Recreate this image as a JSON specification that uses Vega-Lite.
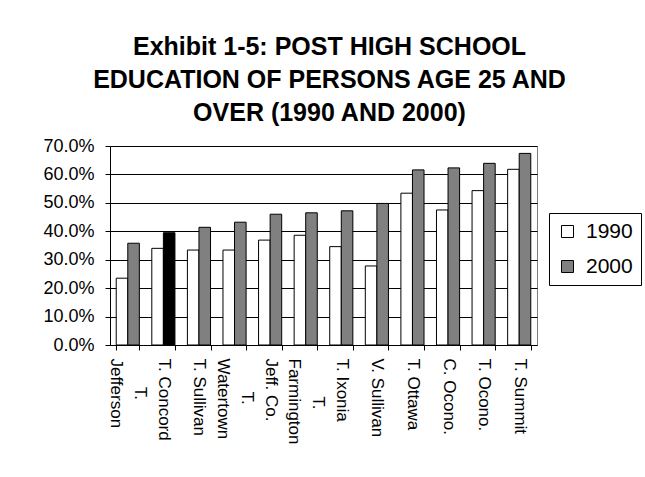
{
  "$schema": "https://vega.github.io/schema/vega-lite/v6.json",
  "autosize": {"type": "none"},
  "width": 427,
  "height": 199,
  "padding": {"left": 110, "top": 146, "right": 108, "bottom": 132},
  "background": "white",
  "config": {
    "font": "Liberation Sans",
    "view": {"stroke": "#808080", "strokeWidth": 1, "fill": "white"}
  },
  "title": {
    "text": ["Exhibit 1-5: POST HIGH SCHOOL", "EDUCATION OF PERSONS AGE 25 AND", "OVER (1990 AND 2000)"],
    "font": "Liberation Sans",
    "fontSize": 25,
    "fontWeight": "bold",
    "color": "black",
    "lineHeight": 33,
    "anchor": "middle",
    "dx": 6,
    "offset": 11
  },
  "data": {
    "values": [
      {"town": "T. Jefferson", "year": "1990", "pct": 0.235, "highlight": false},
      {"town": "T. Jefferson", "year": "2000", "pct": 0.358, "highlight": false},
      {"town": "T. Concord", "year": "1990", "pct": 0.340, "highlight": false},
      {"town": "T. Concord", "year": "2000", "pct": 0.395, "highlight": true},
      {"town": "T. Sullivan", "year": "1990", "pct": 0.334, "highlight": false},
      {"town": "T. Sullivan", "year": "2000", "pct": 0.414, "highlight": false},
      {"town": "T. Watertown", "year": "1990", "pct": 0.334, "highlight": false},
      {"town": "T. Watertown", "year": "2000", "pct": 0.432, "highlight": false},
      {"town": "Jeff. Co.", "year": "1990", "pct": 0.369, "highlight": false},
      {"town": "Jeff. Co.", "year": "2000", "pct": 0.460, "highlight": false},
      {"town": "T. Farmington", "year": "1990", "pct": 0.386, "highlight": false},
      {"town": "T. Farmington", "year": "2000", "pct": 0.465, "highlight": false},
      {"town": "T. Ixonia", "year": "1990", "pct": 0.346, "highlight": false},
      {"town": "T. Ixonia", "year": "2000", "pct": 0.472, "highlight": false},
      {"town": "V. Sullivan", "year": "1990", "pct": 0.278, "highlight": false},
      {"town": "V. Sullivan", "year": "2000", "pct": 0.498, "highlight": false},
      {"town": "T. Ottawa", "year": "1990", "pct": 0.534, "highlight": false},
      {"town": "T. Ottawa", "year": "2000", "pct": 0.616, "highlight": false},
      {"town": "C. Ocono.", "year": "1990", "pct": 0.475, "highlight": false},
      {"town": "C. Ocono.", "year": "2000", "pct": 0.623, "highlight": false},
      {"town": "T. Ocono.", "year": "1990", "pct": 0.543, "highlight": false},
      {"town": "T. Ocono.", "year": "2000", "pct": 0.639, "highlight": false},
      {"town": "T. Summit", "year": "1990", "pct": 0.618, "highlight": false},
      {"town": "T. Summit", "year": "2000", "pct": 0.674, "highlight": false}
    ]
  },
  "mark": {"type": "bar", "stroke": "black", "strokeWidth": 1},
  "encoding": {
    "x": {
      "field": "town",
      "type": "nominal",
      "sort": null,
      "title": null,
      "scale": {"paddingInner": 0.35, "paddingOuter": 0.175},
      "axis": {
        "labelAngle": 90,
        "labelFontSize": 17,
        "labelColor": "black",
        "labelLineHeight": 24,
        "labelPadding": 8,
        "labelOffset": {
          "condition": {"test": "datum.value == 'T. Jefferson' || datum.value == 'T. Watertown' || datum.value == 'T. Farmington'", "value": 12},
          "value": 0
        },
        "tickBand": "extent",
        "tickSize": 5,
        "tickColor": "black",
        "domainColor": "black",
        "labelExpr": "datum.value == 'T. Jefferson' ? ['\u200b\u00a0\u00a0\u00a0\u00a0\u00a0\u00a0T.', 'Jefferson'] : datum.value == 'T. Watertown' ? ['\u200b\u00a0\u00a0\u00a0\u00a0\u00a0\u00a0\u00a0T.', 'Watertown'] : datum.value == 'T. Farmington' ? ['\u200b\u00a0\u00a0\u00a0\u00a0\u00a0\u00a0\u00a0\u00a0T.', 'Farmington'] : datum.value"
      }
    },
    "xOffset": {"field": "year", "type": "nominal", "scale": {"paddingInner": 0}},
    "y": {
      "field": "pct",
      "type": "quantitative",
      "title": null,
      "scale": {"domain": [0, 0.7], "nice": false},
      "axis": {
        "values": [0, 0.1, 0.2, 0.3, 0.4, 0.5, 0.6, 0.7],
        "format": ".1%",
        "labelFontSize": 18,
        "labelColor": "black",
        "labelPadding": 11,
        "tickSize": 5,
        "tickColor": "black",
        "domainColor": "black",
        "grid": true,
        "gridColor": "black",
        "gridWidth": 1,
        "gridOpacity": 1
      }
    },
    "fill": {
      "condition": {"test": "datum.highlight", "value": "black"},
      "field": "year",
      "type": "nominal",
      "scale": {"domain": ["1990", "2000"], "range": ["white", "#808080"]},
      "legend": {
        "title": null,
        "orient": "none",
        "legendX": 439,
        "legendY": 67,
        "padding": 8,
        "strokeColor": "black",
        "fillColor": "white",
        "symbolType": "square",
        "symbolSize": 144,
        "symbolStrokeColor": "black",
        "symbolStrokeWidth": 1,
        "labelFontSize": 21,
        "labelColor": "black",
        "labelOffset": 8,
        "rowPadding": 13
      }
    }
  }
}
